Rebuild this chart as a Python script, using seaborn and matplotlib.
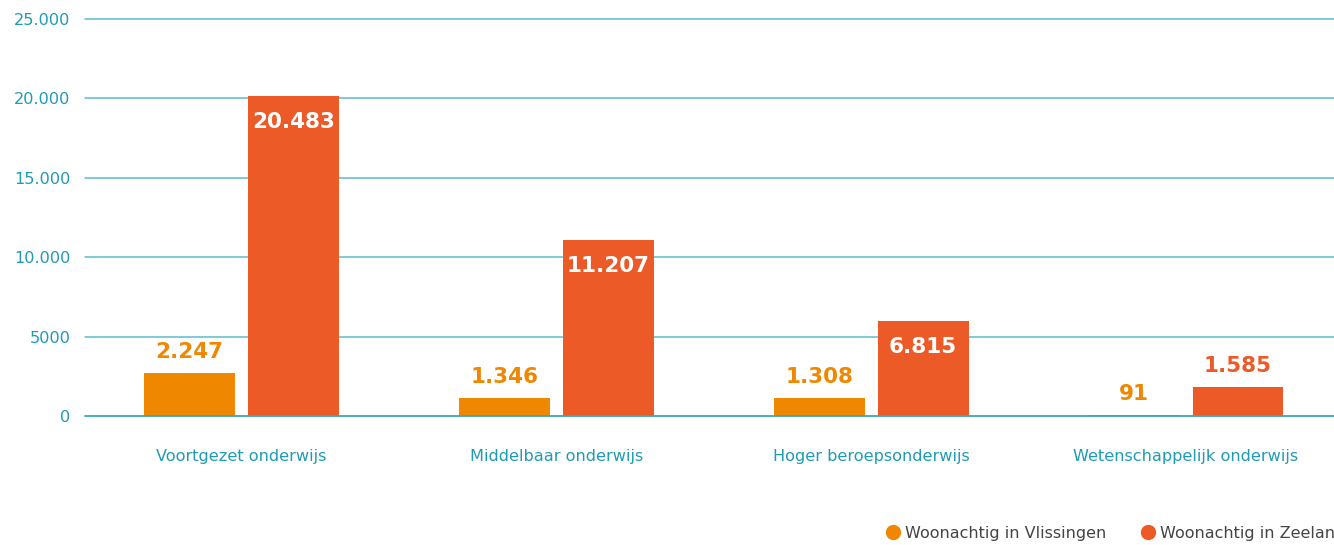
import pandas as pd
import numpy as np
import matplotlib.pyplot as plt
import seaborn as sns
from matplotlib.lines import Line2D

# Data (bar heights as drawn, labels as printed)
categories = ['Voortgezet onderwijs', 'Middelbaar onderwijs',
              'Hoger beroepsonderwijs', 'Wetenschappelijk onderwijs']
series = ['Woonachtig in Vlissingen', 'Woonachtig in Zeeland']
vlissingen = [2700, 1130, 1130, 60]
zeeland = [20100, 11055, 5967, 1820]
vlissingen_labels = ['2.247', '1.346', '1.308', '91']
zeeland_labels = ['20.483', '11.207', '6.815', '1.585']
ytick_vals = [0, 5000, 10000, 15000, 20000, 25000]
ytick_labels = ['0', '5000', '10.000', '15.000', '20.000', '25.000']

colors = ['#F08700', '#EB5A27']
teal = '#1F9BB3'
grid_col = '#5BBCCB'

df = pd.DataFrame({
    'cat': categories * 2,
    'value': vlissingen + zeeland,
    'series': [series[0]] * 4 + [series[1]] * 4,
})

sns.set_style('white')
plt.rcParams['font.family'] = ['DejaVu Sans']

fig = plt.figure(figsize=(13.34, 5.45), dpi=100)
ax = fig.add_axes([0.0637, 0.2367, 0.9363, 0.7293])

sns.barplot(data=df, x='cat', y='value', hue='series', hue_order=series,
            palette=colors, width=0.66, gap=0.125, saturation=1,
            linewidth=0, edgecolor='none',
            legend=False, ax=ax, zorder=3)

ax.set_ylim(0, 25000)
ax.set_xlim(-0.497, 3.47)
ax.set_yticks(ytick_vals)
ax.set_yticklabels(ytick_labels)
# gridlines (drawn unclipped so the top and bottom ones keep their colour)
for v in ytick_vals[1:]:
    ax.axhline(v, color=grid_col, linewidth=1.1, zorder=1, clip_on=False)
ax.axhline(0, color='#3AA8B8', linewidth=1.3, zorder=4, clip_on=False)
for s in ax.spines.values():
    s.set_visible(False)
ax.set_xlabel('')
ax.set_ylabel('')
ax.tick_params(axis='y', length=0, pad=10.5, labelsize=11.6, labelcolor=teal)
ax.tick_params(axis='x', length=0, pad=24, labelsize=11.6, labelcolor=teal)

# value labels
for container, labels, col in zip(ax.containers, [vlissingen_labels, zeeland_labels], colors):
    for bar, lab in zip(container, labels):
        h = bar.get_height()
        x = bar.get_x() + bar.get_width() / 2
        if h > 5000:
            ax.annotate(lab, (x, h), xytext=(0, -18.5), textcoords='offset points',
                        ha='center', va='center', color='white',
                        fontsize=15.5, fontweight='bold', zorder=5)
        else:
            ax.annotate(lab, (x, h), xytext=(0, 15.5), textcoords='offset points',
                        ha='center', va='center', color=col,
                        fontsize=15.5, fontweight='bold', zorder=5)

# legend
handles = [Line2D([], [], marker='o', linestyle='', markersize=10, color=c) for c in colors]
fig.legend(handles, series, loc='center left', bbox_to_anchor=(0.665, 0.022),
           ncol=2, frameon=False, fontsize=11.5, labelcolor='#444444',
           handlelength=0.8, handletextpad=0.35, columnspacing=2.2,
           borderpad=0, borderaxespad=0)

plt.savefig('out.png', dpi=100)
